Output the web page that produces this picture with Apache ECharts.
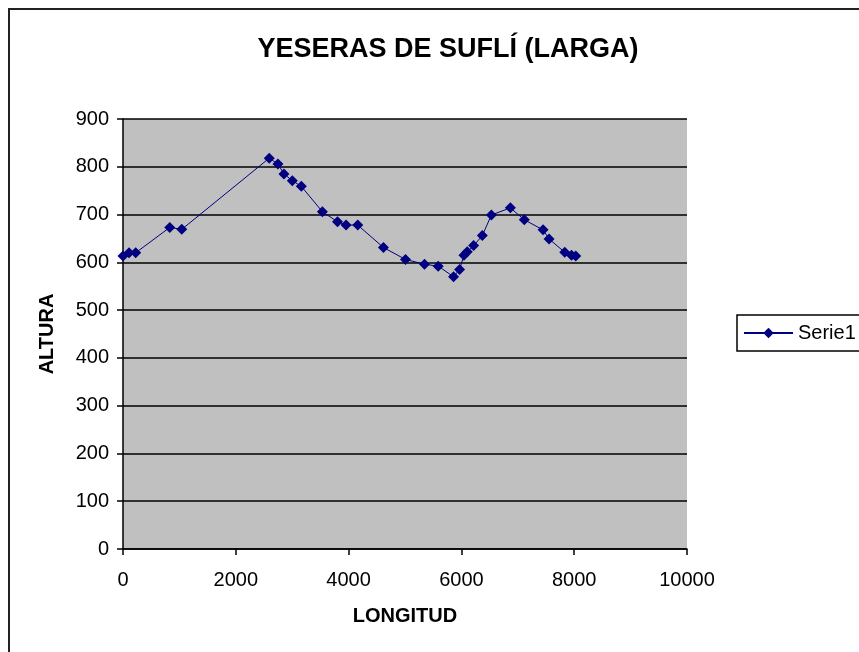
<!DOCTYPE html>
<html>
<head>
<meta charset="utf-8">
<script src="https://cdn.jsdelivr.net/npm/echarts@6/dist/echarts.min.js"></script>
<style>
html,body{margin:0;padding:0;background:#fff;}
#c{width:859px;height:652px;}
</style>
</head>
<body>
<div id="c"></div>
<script>
var titleText = "YESERAS DE SUFLÍ (LARGA)";
var xName = "LONGITUD";
var yName = "ALTURA";
var seriesName = "Serie1";
var longitud = [0, 107, 225, 829, 1042, 2593, 2747, 2854, 3002, 3162, 3535, 3803, 3955, 4162, 4618, 5009, 5346, 5588, 5861, 5968, 6045, 6104, 6217, 6371, 6531, 6868, 7116, 7448, 7554, 7833, 7952, 8028];
var altura   = [613, 620, 620, 673, 669, 818, 806, 785, 771, 759, 706, 685, 678, 678, 631, 606, 596, 592, 570, 585, 615, 622, 635, 656, 699, 714, 689, 668, 649, 621, 615, 613];

var pts = longitud.map(function(x, i){ return [x, altura[i]]; });
var font = "'Liberation Sans', Arial, sans-serif";
var chart = echarts.init(document.getElementById('c'));
chart.setOption({
  animation: false,
  backgroundColor: '#fff',
  textStyle: {fontFamily: font},
  graphic: [{
    type: 'rect', shape: {x: 9, y: 9, width: 900, height: 700},
    style: {fill: 'none', stroke: '#222', lineWidth: 2}, z: 100
  }],
  title: {
    text: titleText, left: 443, top: 31, textAlign: 'center',
    textStyle: {fontFamily: font, fontSize: 27, fontWeight: 'bold', color: '#000'}
  },
  legend: {
    left: 737, top: 315, orient: 'vertical',
    borderColor: '#000', borderWidth: 1.5, padding: [8, 8, 8, 6],
    itemWidth: 49, itemHeight: 13, itemGap: 5,
    textStyle: {fontFamily: font, fontSize: 20, color: '#000'},
    data: [{name: seriesName}]
  },
  grid: {left: 123, top: 119, width: 564, height: 430, show: true, backgroundColor: '#c0c0c0', borderWidth: 0},
  xAxis: {
    type: 'value', min: 0, max: 10000, interval: 2000,
    name: xName, nameLocation: 'middle', nameGap: 57,
    nameTextStyle: {fontFamily: font, fontSize: 20, fontWeight: 'bold', color: '#000'},
    axisLine: {show: true, onZero: false, lineStyle: {color: '#000', width: 1.5}},
    axisTick: {show: true, inside: false, length: 6, lineStyle: {color: '#000', width: 1.5}},
    axisLabel: {fontFamily: font, fontSize: 20, color: '#000', margin: 21,
      formatter: function(v){ return String(v); }},
    splitLine: {show: false}
  },
  yAxis: {
    type: 'value', min: 0, max: 900, interval: 100,
    name: yName, nameLocation: 'middle', nameGap: 66, nameRotate: 90,
    nameTextStyle: {fontFamily: font, fontSize: 20, fontWeight: 'bold', color: '#000'},
    axisLine: {show: true, lineStyle: {color: '#000', width: 1.5}},
    axisTick: {show: true, inside: false, length: 6, lineStyle: {color: '#000', width: 1.5}},
    axisLabel: {fontFamily: font, fontSize: 20, color: '#000', margin: 14},
    splitLine: {show: true, lineStyle: {color: '#000', width: 1.5}}
  },
  series: [{
    name: seriesName, type: 'line', data: pts,
    symbol: 'diamond', symbolSize: 11, showSymbol: true,
    itemStyle: {color: '#000080'},
    lineStyle: {color: '#000080', width: 1}
  }]
});
</script>
</body>
</html>
